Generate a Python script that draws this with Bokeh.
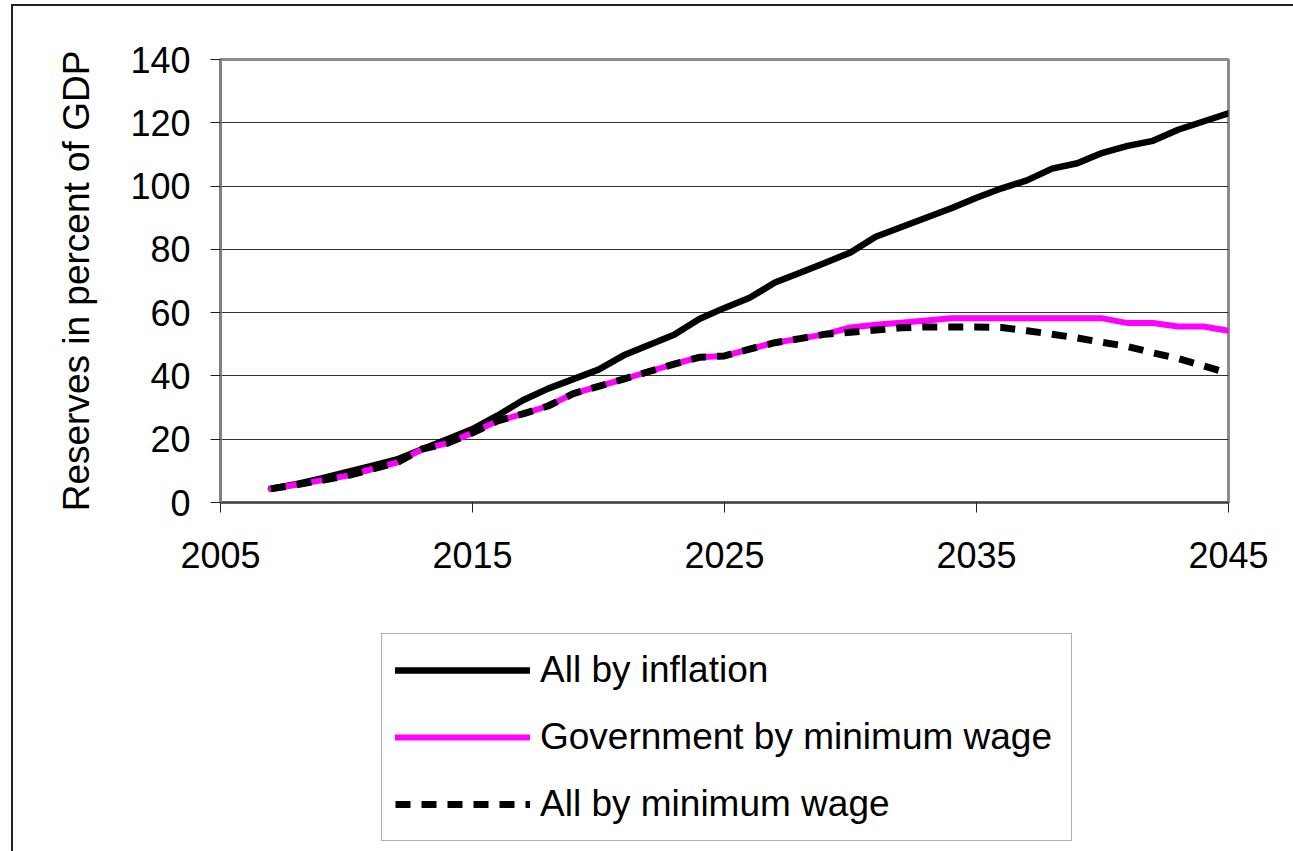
from bokeh.plotting import figure
from bokeh.layouts import column
from bokeh.models import FixedTicker, Legend, LegendItem, ColumnDataSource
from bokeh.embed import file_html
from bokeh.resources import INLINE

years = list(range(2007, 2046))
all_by_inflation = [4.4, 5.8, 7.6, 9.6, 11.6, 13.6, 16.8, 20.0, 23.2,
                    27.5, 32.3, 36.0, 39.0, 42.0, 46.5, 49.8, 53.0, 58.0, 61.5,
                    64.7, 69.5, 72.6, 75.8, 79.0, 84.0, 87.0, 90.0, 93.0, 96.3,
                    99.3, 101.8, 105.5, 107.2, 110.5, 112.7, 114.3, 117.8, 120.4, 123.0]
gov_by_min_wage = [4.3, 5.6, 7.0, 8.4, 10.5, 12.6, 16.9, 18.7, 22.0,
                   25.8, 28.0, 30.5, 34.4, 36.7, 39.0, 41.4, 43.7, 45.9, 46.3,
                   48.5, 50.5, 51.8, 53.2, 55.3, 56.2, 56.8, 57.5, 58.2, 58.2,
                   58.2, 58.2, 58.2, 58.2, 58.2, 56.7, 56.7, 55.6, 55.6, 54.3]
all_by_min_wage = [4.3, 5.6, 7.0, 8.4, 10.5, 12.6, 16.9, 18.7, 22.0,
                   25.8, 28.0, 30.5, 34.4, 36.7, 39.0, 41.4, 43.7, 45.9, 46.3,
                   48.5, 50.5, 51.8, 53.2, 53.8, 54.5, 55.2, 55.5, 55.5, 55.5,
                   55.3, 54.3, 53.2, 52.0, 50.6, 49.3, 47.3, 45.5, 43.2, 40.8]
series_names = ["All by inflation", "Government by minimum wage", "All by minimum wage"]
x_ticks = [2005, 2015, 2025, 2035, 2045]
y_ticks = [0, 20, 40, 60, 80, 100, 120, 140]

FONT = "Liberation Sans"
W = 1280

p = figure(width=W, height=596, output_backend="svg", toolbar_location=None,
           x_range=(2005, 2045), y_range=(0, 140),
           min_border_left=207, min_border_right=65, min_border_top=53, min_border_bottom=100)

p.outline_line_color = "#8c8c8c"
p.outline_line_width = 3
p.xgrid.visible = False
p.ygrid.ticker = FixedTicker(ticks=y_ticks)
p.ygrid.grid_line_color = "#303030"
p.ygrid.grid_line_width = 1.2

p.xaxis.ticker = FixedTicker(ticks=x_ticks)
p.yaxis.ticker = FixedTicker(ticks=y_ticks)
for ax in (p.xaxis, p.yaxis):
    ax.major_label_text_font = FONT
    ax.major_label_text_font_size = "36px"
    ax.major_label_text_color = "black"
    ax.major_tick_out = 10
    ax.major_tick_in = 0
    ax.minor_tick_out = 0
    ax.minor_tick_in = 0
    ax.major_tick_line_color = "#202020"
p.xaxis.axis_line_color = "#404040"
p.xaxis.axis_line_width = 2
p.yaxis.axis_line_color = "#808080"
p.yaxis.axis_line_width = 3
p.xaxis.major_label_standoff = 29
p.yaxis.major_label_standoff = 20
p.yaxis.axis_label = "Reserves in percent of GDP"
p.yaxis.axis_label_text_font = FONT
p.yaxis.axis_label_text_font_size = "37px"
p.yaxis.axis_label_text_font_style = "normal"
p.yaxis.axis_label_text_color = "black"
p.yaxis.axis_label_standoff = 30

styles = [dict(line_color="black", line_width=6.5, line_cap="round", line_join="round"),
          dict(line_color="#ff00ff", line_width=6, line_cap="round", line_join="round"),
          dict(line_color="black", line_width=7, line_dash="15 11", line_join="round")]

src = ColumnDataSource(dict(year=years, a=all_by_inflation, g=gov_by_min_wage, m=all_by_min_wage))
p.line("year", "a", source=src, **styles[0])
p.line("year", "g", source=src, **styles[1])
p.line("year", "m", source=src, **styles[2])

# legend panel below the chart (its own series copies fall outside its ranges)
p2 = figure(width=W, height=249, output_backend="svg", toolbar_location=None,
            x_range=(0, 1), y_range=(0, 1), x_axis_type=None, y_axis_type=None,
            min_border_left=0, min_border_right=0, min_border_top=0, min_border_bottom=0)
p2.outline_line_color = None
p2.xgrid.visible = False
p2.ygrid.visible = False
lr = [p2.line("year", col, source=src, **s) for col, s in zip(["a", "g", "m"], styles)]

legend = Legend(items=[LegendItem(label=n, renderers=[r]) for n, r in zip(series_names, lr)],
                location=(161, 10))
legend.label_text_font = FONT
legend.label_text_font_size = "37px"
legend.label_text_color = "black"
legend.glyph_width = 135
legend.glyph_height = 46
legend.label_height = 46
legend.label_width = 518
legend.label_standoff = 10
legend.spacing = 21
legend.padding = 13
legend.margin = 0
legend.border_line_color = "#606060"
legend.border_line_width = 1.5
legend.background_fill_alpha = 1
p2.add_layout(legend, "center")

layout = column(p, p2, spacing=0, margin=(4, 0, 0, 11))
layout.styles = {"border-left": "2px solid #222", "border-top": "2px solid #222"}

open("out.html", "w").write(file_html(layout, INLINE))
